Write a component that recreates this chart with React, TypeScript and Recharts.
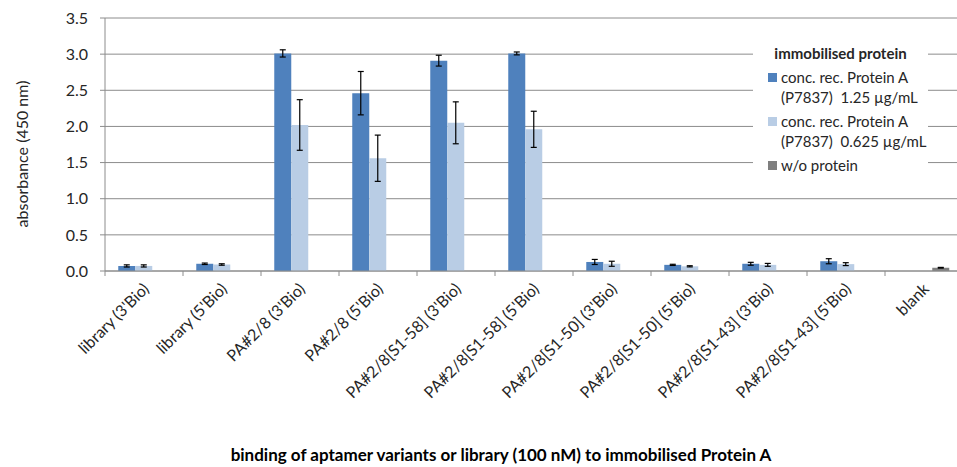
import React from "react";
import { BarChart, Bar, XAxis, YAxis, CartesianGrid, ErrorBar } from "recharts";

const categories = [
  "library (3'Bio)",
  "library (5'Bio)",
  "PA#2/8 (3'Bio)",
  "PA#2/8 (5'Bio)",
  "PA#2/8[S1-58] (3'Bio)",
  "PA#2/8[S1-58] (5'Bio)",
  "PA#2/8[S1-50] (3'Bio)",
  "PA#2/8[S1-50] (5'Bio)",
  "PA#2/8[S1-43] (3'Bio)",
  "PA#2/8[S1-43] (5'Bio)",
  "blank",
];
const highConc = [0.07, 0.1, 3.01, 2.46, 2.91, 3.01, 0.125, 0.085, 0.1, 0.135, null];
const highConcErr = [0.015, 0.01, 0.05, 0.3, 0.075, 0.02, 0.035, 0.008, 0.02, 0.035, null];
const lowConc = [0.07, 0.09, 2.02, 1.56, 2.05, 1.96, 0.1, 0.065, 0.085, 0.095, null];
const lowConcErr = [0.015, 0.01, 0.35, 0.32, 0.29, 0.25, 0.035, 0.008, 0.02, 0.02, null];
const noProtein = [null, null, null, null, null, null, null, null, null, null, 0.045];
const noProteinErr = [null, null, null, null, null, null, null, null, null, null, 0.005];
const yTicks = [0, 0.5, 1, 1.5, 2, 2.5, 3, 3.5];

const seriesNames = [
  "conc. rec. Protein A\n(P7837)  1.25 µg/mL",
  "conc. rec. Protein A\n(P7837)  0.625 µg/mL",
  "w/o protein",
];
const COLORS = ["#4F81BD", "#B9CDE5", "#7F7F7F"];

const data = categories.map((c, i) => ({
  name: c,
  high: highConc[i],
  highErr: highConcErr[i],
  low: lowConc[i],
  lowErr: lowConcErr[i],
  none: noProtein[i],
  noneErr: noProteinErr[i],
}));

const FONT = "Lato, 'Open Sans', sans-serif";
const W = 970;
const H = 467;
const M = { top: 18, right: 7, left: 45, bottom: 0 };
const Y_W = 60;
const BAND = (W - M.left - M.right - Y_W) / categories.length;
const GRID = "#8c8c8c";

function CategoryTick(props: any) {
  const { x, y, payload } = props;
  const left = x - BAND / 2;
  const tx = x + 6;
  const ty = y + 19;
  return (
    <g>
      <line x1={left} y1={y} x2={left} y2={y + 5} stroke={GRID} />
      <text
        x={tx}
        y={ty}
        transform={`rotate(-45 ${tx} ${ty})`}
        textAnchor="end"
        fontSize={16}
        fontFamily={FONT}
        fill="#262626"
      >
        {payload.value}
      </text>
    </g>
  );
}

function LegendBox() {
  return (
    <div
      style={{
        position: "absolute",
        left: 753,
        top: 35,
        background: "#fff",
        width: 175,
        padding: "8px 0 6px 15px",
        boxSizing: "border-box",
        fontFamily: FONT,
        fontSize: 15,
        color: "#262626",
        lineHeight: "20px",
      }}
    >
      <div style={{ fontWeight: 700, textAlign: "center", marginLeft: -15, marginBottom: 4 }}>
        immobilised protein
      </div>
      {seriesNames.map((n, i) => (
        <div key={n} style={{ display: "flex", alignItems: "flex-start", marginBottom: 4 }}>
          <span
            style={{
              width: 9,
              height: 9,
              background: COLORS[i],
              marginTop: 6,
              marginRight: 4,
              flex: "none",
            }}
          />
          <span style={{ whiteSpace: "pre" }}>{n}</span>
        </div>
      ))}
    </div>
  );
}

export default function App() {
  return (
    <div
      style={{
        position: "fixed",
        left: 0,
        top: 0,
        width: 957,
        height: 467,
        overflow: "hidden",
        background: "#fff",
      }}
    >
      <BarChart width={W} height={H} data={data} margin={M} barCategoryGap="17%" barGap={0}>
        <CartesianGrid horizontal vertical={false} stroke={GRID} strokeWidth={1} />
        <XAxis
          dataKey="name"
          interval={0}
          height={H - M.top - 253}
          tickSize={0}
          tickMargin={0}
          tick={<CategoryTick />}
          axisLine={{ stroke: GRID }}
        />
        <YAxis
          width={Y_W}
          domain={[0, 3.5]}
          ticks={yTicks}
          interval={0}
          tickFormatter={(v: number) => v.toFixed(1)}
          tickSize={5}
          tickMargin={12}
          tickLine={{ stroke: GRID }}
          axisLine={{ stroke: GRID }}
          tick={{ fontSize: 16, fontFamily: FONT, fill: "#262626" }}
        />
        <Bar dataKey="high" name={seriesNames[0]} fill={COLORS[0]} isAnimationActive={false}>
          <ErrorBar dataKey="highErr" width={3} stroke="#000" strokeWidth={1.2} />
        </Bar>
        <Bar dataKey="low" name={seriesNames[1]} fill={COLORS[1]} isAnimationActive={false}>
          <ErrorBar dataKey="lowErr" width={3} stroke="#000" strokeWidth={1.2} />
        </Bar>
        <Bar dataKey="none" name={seriesNames[2]} fill={COLORS[2]} isAnimationActive={false}>
          <ErrorBar dataKey="noneErr" width={3} stroke="#000" strokeWidth={1.2} />
        </Bar>
      </BarChart>
      <LegendBox />
      <div
        style={{
          position: "absolute",
          left: 21,
          top: 154,
          transform: "translate(-50%, -50%) rotate(-90deg)",
          whiteSpace: "nowrap",
          fontFamily: FONT,
          fontSize: 16,
          color: "#262626",
        }}
      >
        absorbance (450 nm)
      </div>
      <div
        style={{
          position: "absolute",
          left: 501,
          top: 454,
          transform: "translate(-50%, -50%)",
          whiteSpace: "nowrap",
          fontFamily: FONT,
          fontSize: 17,
          fontWeight: 700,
          color: "#000",
        }}
      >
        binding of aptamer variants or library (100 nM) to immobilised Protein A
      </div>
    </div>
  );
}
